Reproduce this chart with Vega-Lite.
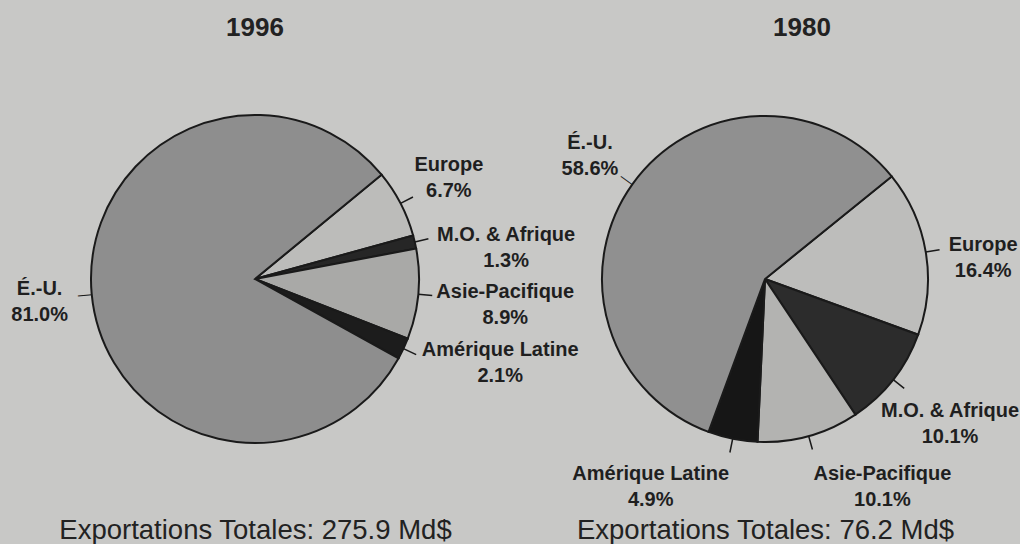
{
  "$schema": "https://vega.github.io/schema/vega-lite/v6.json",
  "background": "#c8c8c6",
  "padding": {"top": 15, "left": 0, "right": 0, "bottom": 0},
  "spacing": 0,
  "bounds": "flush",
  "config": {"view": {"stroke": null}, "font": "Liberation Sans"},
  "datasets": {
    "y1996": [
      {"region": "Europe", "i": 1, "share": 6.7, "label": "Europe\n6.7%"},
      {"region": "M.O. & Afrique", "i": 2, "share": 1.3, "label": "M.O. & Afrique\n1.3%"},
      {"region": "Asie-Pacifique", "i": 3, "share": 8.9, "label": "Asie-Pacifique\n8.9%"},
      {"region": "Amérique Latine", "i": 4, "share": 2.1, "label": "Amérique Latine\n2.1%"},
      {"region": "É.-U.", "i": 5, "share": 81.0, "label": "É.-U.\n81.0%"}
    ],
    "y1980": [
      {"region": "Europe", "i": 1, "share": 16.4, "label": "Europe\n16.4%"},
      {"region": "M.O. & Afrique", "i": 2, "share": 10.1, "label": "M.O. & Afrique\n10.1%"},
      {"region": "Asie-Pacifique", "i": 3, "share": 10.1, "label": "Asie-Pacifique\n10.1%"},
      {"region": "Amérique Latine", "i": 4, "share": 4.9, "label": "Amérique Latine\n4.9%"},
      {"region": "É.-U.", "i": 5, "share": 58.6, "label": "É.-U.\n58.6%"}
    ]
  },
  "resolve": {"scale": {"x": "independent", "theta": "independent", "color": "independent"}, "axis": {"x": "independent"}},
  "hconcat": [
    {
      "width": 510,
      "height": 456,
      "title": {"text": "1996", "fontSize": 26, "fontWeight": "bold", "color": "#222222", "offset": 10, "frame": "group"},
      "data": {"name": "y1996"},
      "layer": [
        {
          "mark": {"type": "arc", "outerRadius": 164, "stroke": "#1a1a1a", "strokeWidth": 2},
          "encoding": {
            "theta": {"field": "share", "type": "quantitative", "stack": true, "scale": {"range": [0.8814, 7.1646]}},
            "order": {"field": "i", "type": "quantitative"},
            "color": {"field": "region", "type": "nominal", "legend": null,
              "scale": {"domain": ["Europe", "M.O. & Afrique", "Asie-Pacifique", "Amérique Latine", "É.-U."],
                        "range": ["#bcbcba", "#262626", "#a9a9a7", "#1c1c1c", "#8e8e8e"]}}
          }
        },
        {
          "mark": {"type": "arc", "radius": 178, "radius2": 164, "padAngle": 3, "fillOpacity": 0, "stroke": "#1a1a1a", "strokeWidth": 1.5},
          "encoding": {
            "theta": {"field": "share", "type": "quantitative", "stack": true},
            "order": {"field": "i", "type": "quantitative"},
            "strokeOpacity": {"condition": {"test": "datum.region === 'É.-U.'", "value": 0}, "value": 1}
          }
        },
        {
          "mark": {"type": "text", "radius": 171, "angle": -5.3, "fontSize": 14, "color": "#1a1a1a", "align": "center", "baseline": "middle"},
          "encoding": {
            "theta": {"field": "share", "type": "quantitative", "stack": true},
            "order": {"field": "i", "type": "quantitative"},
            "text": {"condition": {"test": "datum.region === 'É.-U.'", "value": "—"}, "value": ""}
          }
        },
        {
          "mark": {"type": "text", "radius": 222, "thetaOffset": -0.03, "dy": -6, "fontSize": 20, "fontWeight": "bold", "color": "#1f1f1f", "lineBreak": "\n", "lineHeight": 26, "align": "center", "baseline": "middle"},
          "encoding": {
            "theta": {"field": "share", "type": "quantitative", "stack": true},
            "order": {"field": "i", "type": "quantitative"},
            "text": {"condition": {"test": "datum.region === 'Europe'", "field": "label", "type": "nominal"}, "value": ""}
          }
        },
        {
          "mark": {"type": "text", "radius": 254, "thetaOffset": 0.077, "dy": -6, "fontSize": 20, "fontWeight": "bold", "color": "#1f1f1f", "lineBreak": "\n", "lineHeight": 26, "align": "center", "baseline": "middle"},
          "encoding": {
            "theta": {"field": "share", "type": "quantitative", "stack": true},
            "order": {"field": "i", "type": "quantitative"},
            "text": {"condition": {"test": "datum.region === 'M.O. & Afrique'", "field": "label", "type": "nominal"}, "value": ""}
          }
        },
        {
          "mark": {"type": "text", "radius": 251, "thetaOffset": -0.017, "dy": -6, "fontSize": 20, "fontWeight": "bold", "color": "#1f1f1f", "lineBreak": "\n", "lineHeight": 26, "align": "center", "baseline": "middle"},
          "encoding": {
            "theta": {"field": "share", "type": "quantitative", "stack": true},
            "order": {"field": "i", "type": "quantitative"},
            "text": {"condition": {"test": "datum.region === 'Asie-Pacifique'", "field": "label", "type": "nominal"}, "value": ""}
          }
        },
        {
          "mark": {"type": "text", "radius": 257, "thetaOffset": -0.134, "dy": -6, "fontSize": 20, "fontWeight": "bold", "color": "#1f1f1f", "lineBreak": "\n", "lineHeight": 26, "align": "center", "baseline": "middle"},
          "encoding": {
            "theta": {"field": "share", "type": "quantitative", "stack": true},
            "order": {"field": "i", "type": "quantitative"},
            "text": {"condition": {"test": "datum.region === 'Amérique Latine'", "field": "label", "type": "nominal"}, "value": ""}
          }
        },
        {
          "mark": {"type": "text", "radius": 216, "thetaOffset": 0.017, "dy": -6, "fontSize": 20, "fontWeight": "bold", "color": "#1f1f1f", "lineBreak": "\n", "lineHeight": 26, "align": "center", "baseline": "middle"},
          "encoding": {
            "theta": {"field": "share", "type": "quantitative", "stack": true},
            "order": {"field": "i", "type": "quantitative"},
            "text": {"condition": {"test": "datum.region === 'É.-U.'", "field": "label", "type": "nominal"}, "value": ""}
          }
        },
        {
          "mark": {"type": "text"},
          "encoding": {
            "x": {"field": "region", "type": "nominal",
              "axis": {"title": "Exportations Totales: 275.9 Md$", "labels": false, "ticks": false, "domain": false, "grid": false,
                       "titleFontSize": 27.5, "titleFontWeight": "normal", "titleColor": "#222222", "titlePadding": 9}},
            "text": {"value": ""}
          }
        }
      ]
    },
    {
      "width": 510,
      "height": 456,
      "title": {"text": "1980", "fontSize": 26, "fontWeight": "bold", "color": "#222222", "offset": 10, "frame": "group", "dx": 37},
      "data": {"name": "y1980"},
      "layer": [
        {
          "mark": {"type": "arc", "outerRadius": 163, "stroke": "#1a1a1a", "strokeWidth": 2},
          "encoding": {
            "theta": {"field": "share", "type": "quantitative", "stack": true, "scale": {"range": [0.8901, 7.1733]}},
            "order": {"field": "i", "type": "quantitative"},
            "color": {"field": "region", "type": "nominal", "legend": null,
              "scale": {"domain": ["Europe", "M.O. & Afrique", "Asie-Pacifique", "Amérique Latine", "É.-U."],
                        "range": ["#bdbdbb", "#2c2c2c", "#b3b3b1", "#161616", "#909090"]}}
          }
        },
        {
          "mark": {"type": "arc", "radius": 177, "radius2": 163, "padAngle": 3, "fillOpacity": 0, "stroke": "#1a1a1a", "strokeWidth": 1.5},
          "encoding": {
            "theta": {"field": "share", "type": "quantitative", "stack": true},
            "order": {"field": "i", "type": "quantitative"},
            "strokeOpacity": {"condition": {"test": "datum.region === 'É.-U.'", "value": 0}, "value": 1}
          }
        },
        {
          "mark": {"type": "text", "radius": 170, "angle": 35.6, "fontSize": 14, "color": "#1a1a1a", "align": "center", "baseline": "middle"},
          "encoding": {
            "theta": {"field": "share", "type": "quantitative", "stack": true},
            "order": {"field": "i", "type": "quantitative"},
            "text": {"condition": {"test": "datum.region === 'É.-U.'", "value": "—"}, "value": ""}
          }
        },
        {
          "mark": {"type": "text", "radius": 220, "thetaOffset": 0.038, "dy": -6, "fontSize": 20, "fontWeight": "bold", "color": "#1f1f1f", "lineBreak": "\n", "lineHeight": 26, "align": "center", "baseline": "middle"},
          "encoding": {
            "theta": {"field": "share", "type": "quantitative", "stack": true},
            "order": {"field": "i", "type": "quantitative"},
            "text": {"condition": {"test": "datum.region === 'Europe'", "field": "label", "type": "nominal"}, "value": ""}
          }
        },
        {
          "mark": {"type": "text", "radius": 231, "thetaOffset": -0.024, "dy": -6, "fontSize": 20, "fontWeight": "bold", "color": "#1f1f1f", "lineBreak": "\n", "lineHeight": 26, "align": "center", "baseline": "middle"},
          "encoding": {
            "theta": {"field": "share", "type": "quantitative", "stack": true},
            "order": {"field": "i", "type": "quantitative"},
            "text": {"condition": {"test": "datum.region === 'M.O. & Afrique'", "field": "label", "type": "nominal"}, "value": ""}
          }
        },
        {
          "mark": {"type": "text", "radius": 233, "thetaOffset": -0.257, "dy": -6, "fontSize": 20, "fontWeight": "bold", "color": "#1f1f1f", "lineBreak": "\n", "lineHeight": 26, "align": "center", "baseline": "middle"},
          "encoding": {
            "theta": {"field": "share", "type": "quantitative", "stack": true},
            "order": {"field": "i", "type": "quantitative"},
            "text": {"condition": {"test": "datum.region === 'Asie-Pacifique'", "field": "label", "type": "nominal"}, "value": ""}
          }
        },
        {
          "mark": {"type": "text", "radius": 231, "thetaOffset": 0.318, "dy": -6, "fontSize": 20, "fontWeight": "bold", "color": "#1f1f1f", "lineBreak": "\n", "lineHeight": 26, "align": "center", "baseline": "middle"},
          "encoding": {
            "theta": {"field": "share", "type": "quantitative", "stack": true},
            "order": {"field": "i", "type": "quantitative"},
            "text": {"condition": {"test": "datum.region === 'Amérique Latine'", "field": "label", "type": "nominal"}, "value": ""}
          }
        },
        {
          "mark": {"type": "text", "radius": 218, "thetaOffset": 0.017, "dy": -6, "fontSize": 20, "fontWeight": "bold", "color": "#1f1f1f", "lineBreak": "\n", "lineHeight": 26, "align": "center", "baseline": "middle"},
          "encoding": {
            "theta": {"field": "share", "type": "quantitative", "stack": true},
            "order": {"field": "i", "type": "quantitative"},
            "text": {"condition": {"test": "datum.region === 'É.-U.'", "field": "label", "type": "nominal"}, "value": ""}
          }
        },
        {
          "mark": {"type": "text"},
          "encoding": {
            "x": {"field": "region", "type": "nominal",
              "axis": {"title": "Exportations Totales: 76.2 Md$", "labels": false, "ticks": false, "domain": false, "grid": false,
                       "titleFontSize": 27.5, "titleFontWeight": "normal", "titleColor": "#222222", "titlePadding": 9}},
            "text": {"value": ""}
          }
        }
      ]
    }
  ]
}
